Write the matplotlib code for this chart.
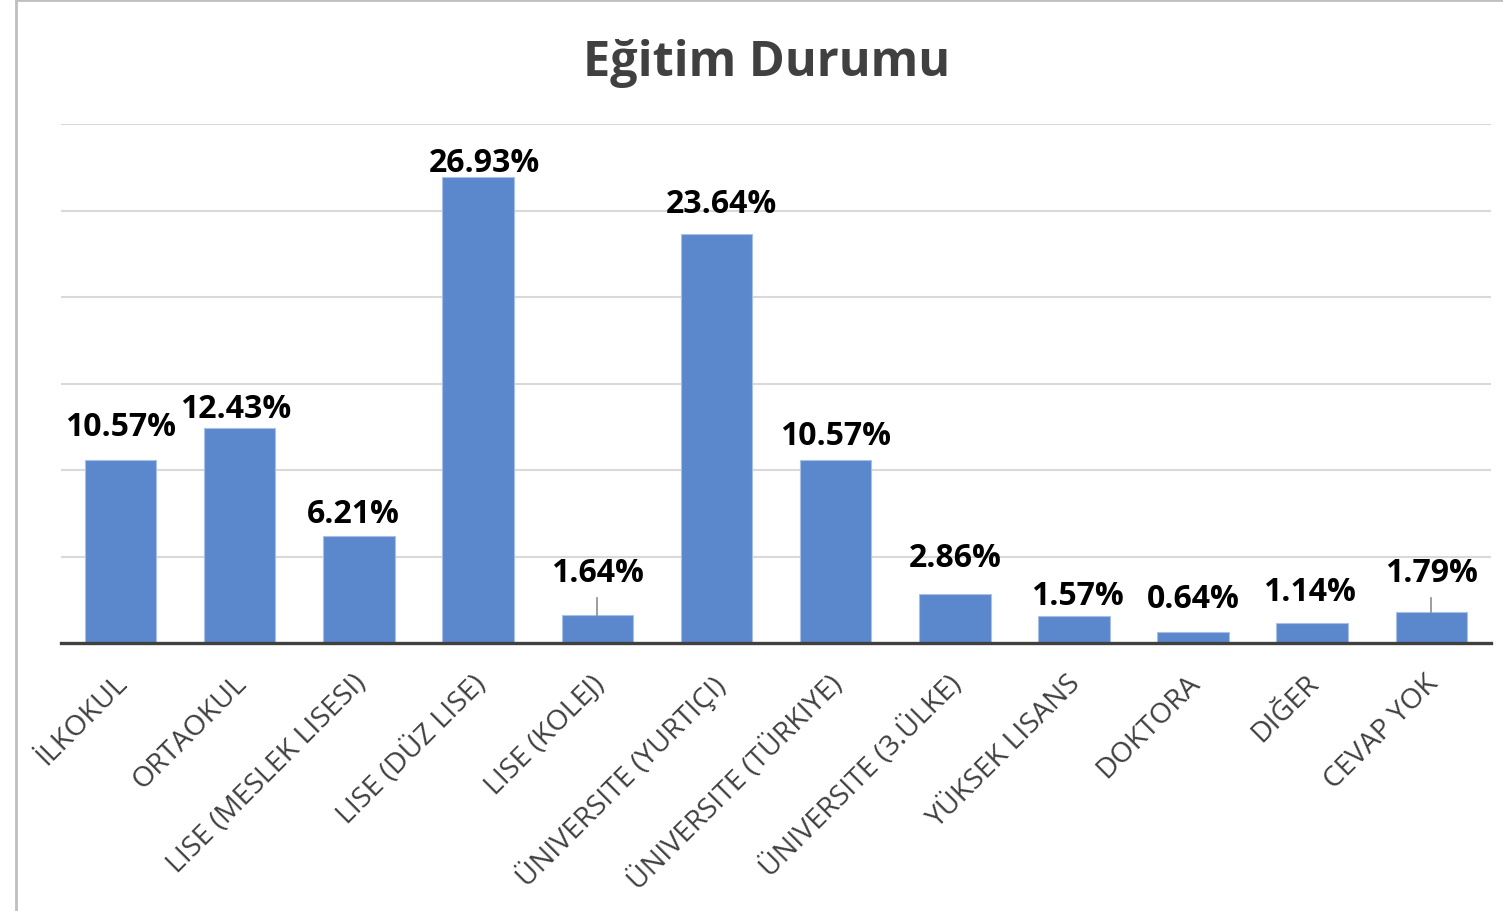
import matplotlib
matplotlib.use("Agg")
import matplotlib.pyplot as plt
from matplotlib.lines import Line2D
from matplotlib.transforms import ScaledTranslation

categories = ["İLKOKUL", "ORTAOKUL", "LISE (MESLEK LISESI)", "LISE (DÜZ LISE)", "LISE (KOLEJ)",
              "ÜNIVERSITE (YURTIÇI)", "ÜNIVERSITE (TÜRKIYE)", "ÜNIVERSITE (3.ÜLKE)",
              "YÜKSEK LISANS", "DOKTORA", "DIĞER", "CEVAP YOK"]
values = [10.57, 12.43, 6.21, 26.93, 1.64, 23.64, 10.57, 2.86, 1.57, 0.64, 1.14, 1.79]
value_labels = ["10.57%", "12.43%", "6.21%", "26.93%", "1.64%", "23.64%", "10.57%", "2.86%",
                "1.57%", "0.64%", "1.14%", "1.79%"]

# layout: label centre positions (in axis units) and leader lines
label_y = [12.49, 13.53, 7.46, 27.75, 4.05, 25.38, 11.97, 4.97, 2.72, 2.60, 2.95, 4.05]
label_dx = [0, -0.03, -0.05, 0.05, 0, 0.04, 0, 0, 0.03, 0, -0.02, 0]
leader = [False, False, False, False, True, False, False, False, False, False, False, True]

FONT = ["Open Sans", "DejaVu Sans"]
plt.rcParams['font.family'] = FONT

fig = plt.figure(figsize=(15.03, 9.12), dpi=100)
W, H = 1503, 912
ax = fig.add_axes([61 / W, (H - 644) / H, (1491 - 61) / W, (644 - 125) / H])

x = list(range(len(categories)))
ax.bar(x, values, width=0.6, color="#5B87CC", edgecolor="#A9C0E6", linewidth=0.8, zorder=3)
ax.set_xlim(-0.5, len(categories) - 0.5)
ax.set_ylim(0, 30)
ax.set_yticks([0, 5, 10, 15, 20, 25, 30])
ax.yaxis.grid(True, color="#D9D9D9", linewidth=1.5, zorder=0)
ax.set_axisbelow(True)
ax.tick_params(axis='y', left=False, labelleft=False)
ax.tick_params(axis='x', bottom=False, pad=15)
for s in ["top", "right", "left"]:
    ax.spines[s].set_visible(False)
ax.spines["bottom"].set_color("#404040")
ax.spines["bottom"].set_linewidth(2.4)
ax.spines["bottom"].set_zorder(5)

ax.set_xticks(x)
ax.set_xticklabels(categories, rotation=45, ha="right", rotation_mode="anchor",
                   fontsize=20.5, color="#404040")
shift = ScaledTranslation(-7 / 100, 0, fig.dpi_scale_trans)
for lbl in ax.get_xticklabels():
    lbl.set_transform(lbl.get_transform() + shift)

for i, (v, lab) in enumerate(zip(values, value_labels)):
    ax.text(i + label_dx[i], label_y[i], lab, ha="center", va="center", fontsize=23,
            fontweight="bold", color="black", zorder=6)
    if leader[i]:
        ax.plot([i, i], [v, label_y[i] - 1.45], color="#8C8C8C", linewidth=1.2, zorder=4)

fig.text(767 / W, 1 - 63 / H, "Eğitim Durumu", ha="center", va="center", fontsize=35,
         fontweight="bold", color="#404040")

# chart border
fig.add_artist(Line2D([16 / W, 16 / W], [0, 1 - 1 / H], transform=fig.transFigure,
                      color="#BFBFBF", linewidth=2))
fig.add_artist(Line2D([16 / W, 1], [1 - 1 / H, 1 - 1 / H], transform=fig.transFigure,
                      color="#BFBFBF", linewidth=2))

fig.savefig("out.png", dpi=100)
